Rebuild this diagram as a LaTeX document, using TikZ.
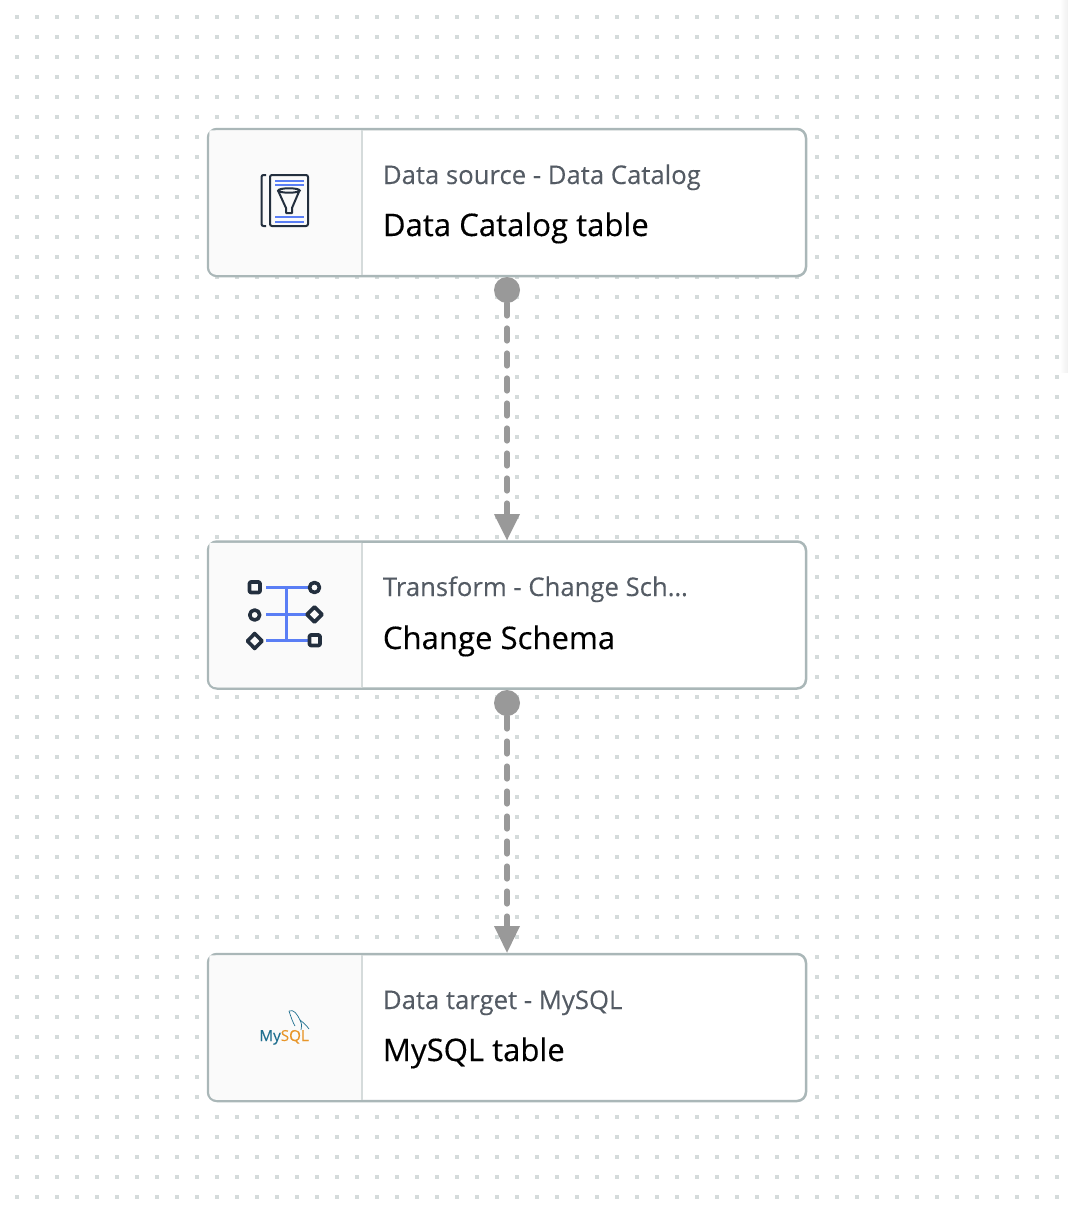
\documentclass[tikz,border=0pt]{standalone}
\usepackage{fontspec}
\setmainfont{Open Sans}
\newfontfamily\kindfont[FakeBold=0.15]{Open Sans}
\newfontfamily\namefont[FakeBold=0.3]{Open Sans}
\usetikzlibrary{arrows.meta}
\definecolor{dotgray}{HTML}{D5DBDB}
\definecolor{cardedge}{HTML}{AAB7B8}
\definecolor{paneledge}{HTML}{D5DBDB}
\definecolor{panelfill}{HTML}{FAFAFA}
\definecolor{kindgray}{HTML}{545B64}
\definecolor{linkgray}{HTML}{999999}
\definecolor{icondark}{HTML}{232F3E}
\definecolor{iconblue}{HTML}{5A7EF5}
\definecolor{mysqlteal}{HTML}{1F6F8F}
\definecolor{mysqlorange}{HTML}{E8962A}
\tikzset{
  cardbox/.style={draw=cardedge, line width=1.25pt, fill=white, rounded corners=4.5pt,
    minimum width=299pt, minimum height=73.5pt, inner sep=0pt},
  kindtext/.style={anchor=base west, inner sep=0pt, text=kindgray, font=\kindfont\fontsize{12.85}{15}\selectfont},
  nametext/.style={anchor=base west, inner sep=0pt, text=black, font=\namefont\fontsize{15.55}{18}\selectfont},
  portdot/.style={circle, fill=linkgray, minimum size=13pt, inner sep=0pt},
  linkline/.style={draw=linkgray, line width=2.6pt, line cap=round, dash pattern=on 6.5pt off 6pt,
    dash phase=6pt},
  linktip/.style={fill=linkgray, draw=none},
  darkline/.style={draw=icondark, line width=1pt},
  blueline/.style={draw=iconblue, line width=1pt},
  barline/.style={draw=iconblue, line width=1.75pt},
  pinline/.style={draw=icondark, line width=1.8pt, fill=panelfill, line join=round},
}
\begin{document}
\begin{tikzpicture}[x=0.5pt,y=-0.5pt]
  \useasboundingbox (0,0) rectangle (1068,1210);
  % Right edge fade
  \shade[left color=white, right color=black!6, draw=none] (1060,0) rectangle (1068,372);
  % Canvas dots
  \foreach \px in {17,37,...,1057}
    \foreach \py in {17,37,...,1197}
      \fill[dotgray] (\px-2,\py-2) rectangle (\px+2,\py+2);

  % Cards
  \node[cardbox] (srccard) at (507,202.5) {};
  \node[cardbox] (xformcard) at (507,615) {};
  \node[cardbox] (dstcard) at (507,1027.5) {};
  \foreach \c in {srccard,xformcard,dstcard} {
    \fill[panelfill, rounded corners=3.5pt] ([xshift=1.25pt,yshift=-1.25pt]\c.north west)
      -- ([xshift=1.25pt,yshift=1.25pt]\c.south west)
      [sharp corners] -- ([xshift=77.6pt,yshift=1.25pt]\c.south west)
      -- ([xshift=77.6pt,yshift=-1.25pt]\c.north west) -- cycle;
    \draw[draw=paneledge, line width=1.25pt] ([xshift=77.6pt,yshift=-1.25pt]\c.north west)
      -- ([xshift=77.6pt,yshift=1.25pt]\c.south west);
  }

  % Card texts
  \node[kindtext] (srckind) at (382.5,184) {Data source - Data Catalog};
  \node[kindtext] (xformkind) at (382.5,596) {Transform - Change Sch…};
  \node[kindtext] (dstkind) at (382.5,1009) {Data target - MySQL};
  \node[nametext] (srcname) at (382.5,236) {Data Catalog table};
  \node[nametext] (xformname) at (382.5,649) {Change Schema};
  \node[nametext] (dstname) at (382.5,1061) {MySQL table};

  % Links
  \node[portdot] (srcport) at (507,290) {};
  \node[portdot] (xformport) at (507,703) {};
  \draw[linkline] (srcport.center) -- ([yshift=13pt]xformcard.north);
  \draw[linkline] (xformport.center) -- ([yshift=13pt]dstcard.north);
  \fill[linktip] (494,514) -- (520,514) -- (xformcard.north) -- cycle;
  \fill[linktip] (494,926) -- (520,926) -- (dstcard.north) -- cycle;

  % Catalog icon
  \draw[darkline, rounded corners=1pt] (270,175) rectangle (308,226);
  \draw[darkline, rounded corners=1pt] (266,175) -- (261.5,175) -- (261.5,226) -- (266,226);
  \foreach \py in {180.5,184.5,217,221.5}
    \draw[blueline] (275,\py) -- (304,\py);
  \draw[darkline, line join=round] (278,190.5) -- (286,208) -- (286,213) -- (292,213) -- (292,208) -- (299.5,190.5);
  \draw[darkline] (289,190.5) ellipse (10.8 and 2.2);

  % Transform icon
  \draw[barline] (266,587.5) -- (308,587.5);
  \draw[barline] (266,614.5) -- (308,614.5);
  \draw[barline] (266,640.5) -- (308,640.5);
  \draw[barline] (286.5,587.5) -- (286.5,640.5);
  \draw[pinline, rounded corners=.6pt] (249.5,582) rectangle (260,592.5);
  \draw[pinline] (254.7,615) circle (5);
  \draw[pinline] (254.7,633.5) -- (262,641) -- (254.7,648.5) -- (247.5,641) -- cycle;
  \draw[pinline] (314.5,587.5) circle (5);
  \draw[pinline] (314.5,607) -- (322,614.5) -- (314.5,622) -- (307,614.5) -- cycle;
  \draw[pinline, rounded corners=.6pt] (309.5,635) rectangle (320,645.5);

  % MySQL logo
  \node[anchor=base west, inner sep=0pt, font=\kindfont\fontsize{7.6}{8}\selectfont] (mysqlmark) at (259,1041)
    {\textcolor{mysqlteal}{My}\textcolor{mysqlorange}{SQL}};
  \draw[draw=mysqlteal, line width=.35pt, line join=round] (289,1011) .. controls (294,1009) and (297,1014) .. (300,1020)
    .. controls (304,1023) and (307,1026) .. (309,1029);
  \draw[draw=mysqlteal, line width=.35pt] (289,1011) .. controls (291,1017) and (293,1023) .. (295,1026);
  \draw[draw=mysqlteal, line width=.35pt] (300,1020) .. controls (302,1024) and (302,1027) .. (301,1030);
\end{tikzpicture}
\end{document}
